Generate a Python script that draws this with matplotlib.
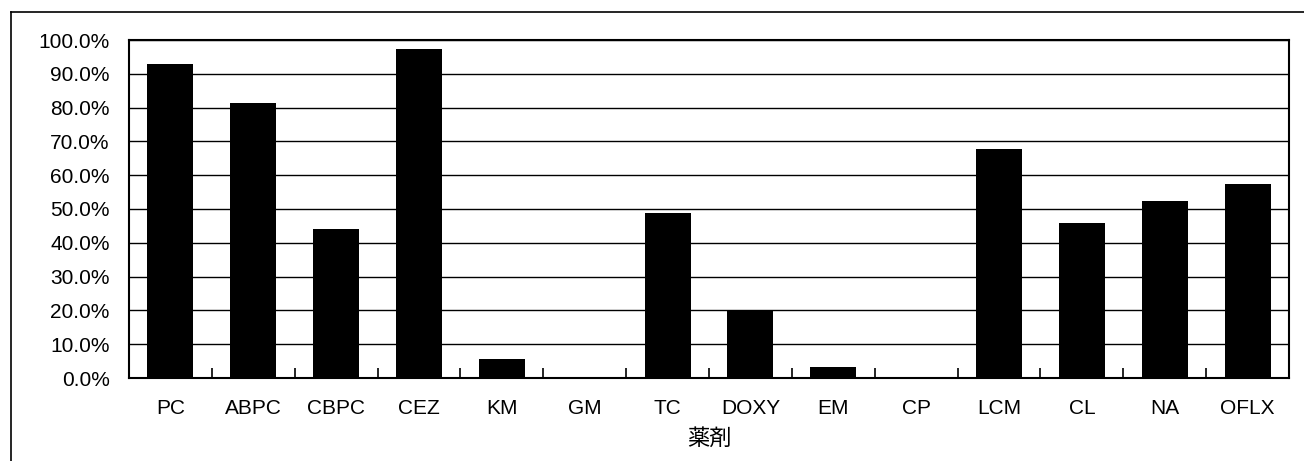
import matplotlib
matplotlib.use("Agg")
import matplotlib.pyplot as plt
from matplotlib.ticker import FuncFormatter, MultipleLocator, FixedLocator
from matplotlib.lines import Line2D

plt.rcParams['font.family'] = ['Liberation Sans', 'Noto Sans CJK JP', 'DejaVu Sans']

drugs = ["PC", "ABPC", "CBPC", "CEZ", "KM", "GM", "TC", "DOXY", "EM", "CP",
         "LCM", "CL", "NA", "OFLX"]
rates = [92.8, 81.3, 44.2, 97.2, 5.6, 0.0, 48.9, 19.8, 3.3, 0.0,
         67.8, 45.8, 52.5, 57.4]
xlabel = "薬剤"

fig = plt.figure(figsize=(13.04, 4.61), dpi=100)
ax = fig.add_axes([129/1304, 1-378/461, (1289-129)/1304, (378-40)/461])

x = list(range(len(drugs)))
ax.bar(x, rates, width=0.555, color="black", zorder=3)

ax.set_xlim(-0.5, len(drugs) - 0.5)
ax.set_ylim(0, 100)
ax.yaxis.set_major_locator(MultipleLocator(10))
ax.yaxis.set_major_formatter(FuncFormatter(lambda v, p: f"{v:.1f}%"))
ax.grid(axis="y", color="black", linewidth=1.0, zorder=1)
ax.set_axisbelow(True)

ax.set_xticks(x)
ax.set_xticklabels(drugs)
ax.xaxis.set_minor_locator(FixedLocator([i + 0.5 for i in range(len(drugs) - 1)]))
ax.tick_params(axis="x", which="major", length=0, pad=15, labelsize=15)
ax.tick_params(axis="x", which="minor", direction="in", length=7, width=1.2, color="black")
ax.tick_params(axis="y", which="both", length=0, pad=14, labelsize=15)
for s in ax.spines.values():
    s.set_color("black")
    s.set_linewidth(1.5)

ax.set_xlabel(xlabel, fontsize=16, labelpad=8)

# outer frame (left and top)
fig.add_artist(Line2D([11/1304, 11/1304], [0, 1-12/461], color="black", linewidth=1.2))
fig.add_artist(Line2D([11/1304, 1], [1-12/461, 1-12/461], color="black", linewidth=1.2))

fig.savefig("out.png", dpi=100, facecolor="white")
